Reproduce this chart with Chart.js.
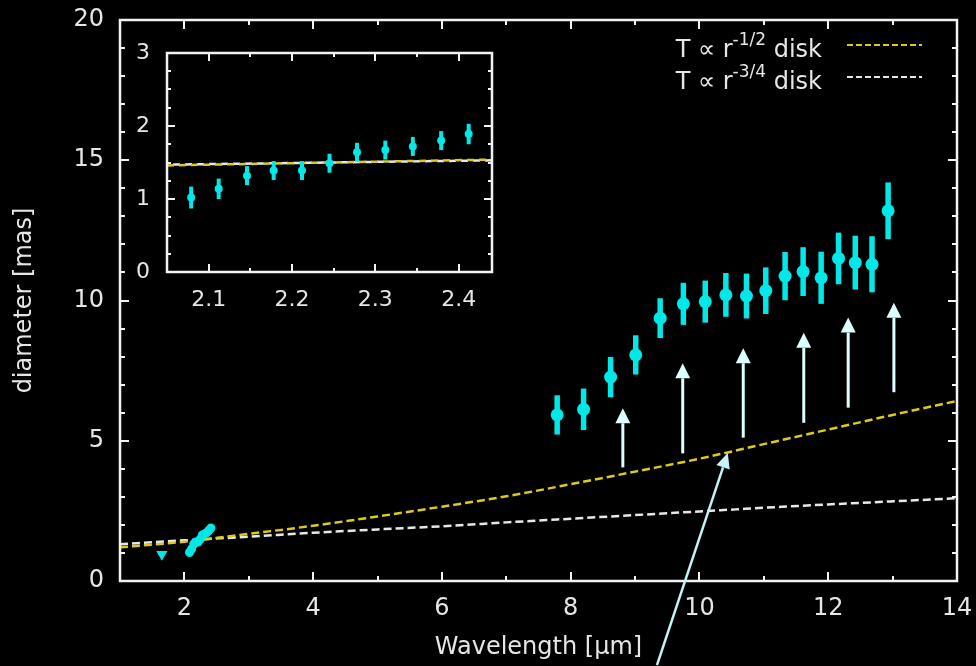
<!DOCTYPE html>
<html>
<head>
<meta charset="utf-8">
<script src="https://cdn.jsdelivr.net/npm/chart.js@4.4.1/dist/chart.umd.min.js"></script>
<style>
  html, body { margin: 0; padding: 0; background: #000; }
  #wrap { position: relative; width: 976px; height: 666px; overflow: hidden; }
  #mainChart { position: absolute; left: 0; top: 0; }
  #insetChart { position: absolute; left: 125px; top: 40px; }
</style>
</head>
<body>
<div id="wrap">
  <canvas id="mainChart" width="976" height="666"></canvas>
  <canvas id="insetChart" width="375" height="280"></canvas>
</div>
<script>
// N band (mid-IR) diameters
const midX = [7.79, 8.20, 8.62, 9.01, 9.39, 9.75, 10.09, 10.41, 10.73, 11.03, 11.33, 11.61, 11.89, 12.16, 12.42, 12.68, 12.93];
const midDiam = [5.92, 6.12, 7.27, 8.06, 9.37, 9.88, 9.96, 10.20, 10.16, 10.35, 10.87, 11.03, 10.81, 11.50, 11.35, 11.29, 13.20];
const midErr = [0.70, 0.74, 0.72, 0.70, 0.71, 0.75, 0.75, 0.78, 0.80, 0.83, 0.86, 0.87, 0.93, 0.92, 0.96, 1.00, 1.01];

// K band diameters (also shown in the inset)
const kX = [2.079, 2.112, 2.146, 2.178, 2.212, 2.245, 2.278, 2.312, 2.345, 2.379, 2.412];
const kDiam = [1.02, 1.14, 1.32, 1.39, 1.39, 1.49, 1.64, 1.67, 1.72, 1.80, 1.89];
const kErr = [0.15, 0.14, 0.13, 0.13, 0.13, 0.13, 0.13, 0.13, 0.13, 0.13, 0.14];

// H band upper limit
const hX = [1.65];
const hDiam = [0.95];

// lower limits (arrows)
const limX = [8.81, 9.74, 10.68, 11.62, 12.31, 13.02];
const limFrom = [4.05, 4.55, 5.11, 5.64, 6.18, 6.73];
const limTo = [6.16, 7.76, 8.30, 8.85, 9.39, 9.92];

// disk models
const modelX = [1, 2, 3, 4, 5, 6, 7, 8, 9, 10, 11, 12, 13, 14];
const diskHalf = [1.20, 1.40, 1.68, 1.97, 2.30, 2.65, 3.02, 3.45, 3.90, 4.36, 4.88, 5.40, 5.92, 6.42];
const diskThreeQuarter = [1.31, 1.45, 1.58, 1.72, 1.84, 1.95, 2.09, 2.22, 2.35, 2.48, 2.61, 2.73, 2.84, 2.95];
const insetModelX = [2.05, 2.44];
const insetHalf = [1.46, 1.54];
const insetThreeQuarter = [1.47, 1.53];

// pointer arrow (from below the plot to the model curve)
const pointerFrom = [9.34, -3.0];
const pointerTo = [10.44, 4.56];

const CYAN = "#00e8e8";
const YELLOW = "#dccb1c";
const WHITE = "#e8e8e8";
const TEXT = "#e6e6e6";
const FONT = "'DejaVu Sans', sans-serif";

Chart.defaults.font.family = FONT;
Chart.defaults.color = TEXT;

const pts = (xs, ys) => xs.map((x, i) => ({ x: x, y: ys[i] }));

// keep the plot box where we put it: no extra room for overhanging labels
function fixBox(size, key) {
    return function (s) {
        s[key] = size;
        s.paddingTop = 0;
        s.paddingBottom = 0;
        s.paddingLeft = 0;
        s.paddingRight = 0;
    };
}

function drawArrow(ctx, x0, y0, x1, y1, head, halfW) {
    const ang = Math.atan2(y1 - y0, x1 - x0);
    const bx = x1 - head * Math.cos(ang), by = y1 - head * Math.sin(ang);
    ctx.beginPath();
    ctx.moveTo(x0, y0);
    ctx.lineTo(bx, by);
    ctx.stroke();
    ctx.beginPath();
    ctx.moveTo(x1, y1);
    ctx.lineTo(bx + halfW * Math.sin(ang), by - halfW * Math.cos(ang));
    ctx.lineTo(bx - halfW * Math.sin(ang), by + halfW * Math.cos(ang));
    ctx.closePath();
    ctx.fill();
}

// vertical error bars, drawn just before the points of their dataset
const errorBarPlugin = {
    id: "errorBars",
    beforeDatasetDraw(chart, args) {
        const ds = chart.data.datasets[args.index];
        if (!ds.errorBars) return;
        const { ctx, scales: { x, y } } = chart;
        ctx.save();
        ctx.strokeStyle = ds.backgroundColor;
        ctx.lineWidth = ds.errorBarWidth;
        ds.data.forEach((p, i) => {
            const px = x.getPixelForValue(p.x);
            ctx.beginPath();
            ctx.moveTo(px, y.getPixelForValue(p.y - ds.errorBars[i]));
            ctx.lineTo(px, y.getPixelForValue(p.y + ds.errorBars[i]));
            ctx.stroke();
        });
        ctx.restore();
    }
};

// gnuplot-like box with inward ticks on all four sides
function framePlugin(xStep, yStep, majorLen, minorLen) {
    return {
        id: "frame",
        afterDatasetsDraw(chart) {
            const { ctx, chartArea: a, scales: { x, y } } = chart;
            ctx.save();
            ctx.strokeStyle = "#f2f2f2";
            ctx.lineWidth = 2;
            const isMajor = (scale, v) => scale.ticks.some(t => Math.abs(t.value - v) < 1e-6);
            for (let n = Math.ceil(x.min / xStep - 1e-9); n * xStep <= x.max + 1e-9; n++) {
                const v = n * xStep;
                if (Math.abs(v - x.min) < 1e-6 || Math.abs(v - x.max) < 1e-6) continue;
                const len = isMajor(x, v) ? majorLen : minorLen;
                const px = Math.round(x.getPixelForValue(v));
                ctx.beginPath();
                ctx.moveTo(px, a.bottom); ctx.lineTo(px, a.bottom - len);
                ctx.moveTo(px, a.top); ctx.lineTo(px, a.top + len);
                ctx.stroke();
            }
            for (let n = Math.ceil(y.min / yStep - 1e-9); n * yStep <= y.max + 1e-9; n++) {
                const v = n * yStep;
                if (Math.abs(v - y.min) < 1e-6 || Math.abs(v - y.max) < 1e-6) continue;
                const len = isMajor(y, v) ? majorLen : minorLen;
                const py = Math.round(y.getPixelForValue(v));
                ctx.beginPath();
                ctx.moveTo(a.left, py); ctx.lineTo(a.left + len, py);
                ctx.moveTo(a.right, py); ctx.lineTo(a.right - len, py);
                ctx.stroke();
            }
            ctx.lineWidth = 2.5;
            ctx.strokeRect(a.left, a.top, a.right - a.left, a.bottom - a.top);
            ctx.restore();
        }
    };
}

const arrowPlugin = {
    id: "limitArrows",
    afterDraw(chart) {
        const { ctx, scales: { x, y } } = chart;
        ctx.save();
        ctx.strokeStyle = "#dcffff";
        ctx.fillStyle = "#dcffff";
        ctx.lineWidth = 3;
        limX.forEach((v, i) => {
            const px = x.getPixelForValue(v);
            drawArrow(ctx, px, y.getPixelForValue(limFrom[i]), px, y.getPixelForValue(limTo[i]), 15, 7.5);
        });
        ctx.strokeStyle = "#c2f4fa";
        ctx.fillStyle = "#c2f4fa";
        ctx.lineWidth = 2.5;
        drawArrow(ctx,
            x.getPixelForValue(pointerFrom[0]), y.getPixelForValue(pointerFrom[1]),
            x.getPixelForValue(pointerTo[0]), y.getPixelForValue(pointerTo[1]), 15, 7);
        ctx.restore();
    }
};

const legendPlugin = {
    id: "diskLegend",
    afterDraw(chart) {
        const { ctx, chartArea: a } = chart;
        const rows = [
            { sup: "-1/2", color: YELLOW },
            { sup: "-3/4", color: WHITE }
        ];
        const textRight = a.right - 135;
        rows.forEach((r, i) => {
            const base = a.top + 37 + i * 32;
            ctx.save();
            ctx.fillStyle = TEXT;
            ctx.textBaseline = "alphabetic";
            ctx.font = "24px " + FONT;
            const w1 = ctx.measureText("T \u221d r").width;
            const w3 = ctx.measureText(" disk").width;
            ctx.font = "17px " + FONT;
            const w2 = ctx.measureText(r.sup).width;
            let tx = textRight - (w1 + w2 + w3);
            ctx.font = "24px " + FONT;
            ctx.fillText("T \u221d r", tx, base);
            tx += w1;
            ctx.font = "17px " + FONT;
            ctx.fillText(r.sup, tx, base - 12);
            tx += w2;
            ctx.font = "24px " + FONT;
            ctx.fillText(" disk", tx, base);
            ctx.strokeStyle = r.color;
            ctx.lineWidth = 2;
            ctx.setLineDash([6, 3]);
            ctx.beginPath();
            ctx.moveTo(a.right - 110, base - 12);
            ctx.lineTo(a.right - 35, base - 12);
            ctx.stroke();
            ctx.restore();
        });
    }
};

function curve(xs, ys, color, dash, offset) {
    return {
        data: pts(xs, ys),
        showLine: true,
        borderColor: color,
        borderWidth: 2.5,
        borderDash: dash,
        borderDashOffset: offset || 0,
        pointRadius: 0,
        cubicInterpolationMode: "monotone",
        order: 5
    };
}

new Chart(document.getElementById("mainChart"), {
    type: "scatter",
    data: {
        datasets: [
            {
                data: pts(midX, midDiam),
                backgroundColor: CYAN,
                pointRadius: 6.5,
                pointBorderWidth: 0,
                errorBars: midErr,
                errorBarWidth: 5.5,
                order: 1
            },
            {
                data: pts(kX, kDiam),
                backgroundColor: CYAN,
                pointRadius: 4.5,
                pointBorderWidth: 0,
                errorBars: kErr,
                errorBarWidth: 4,
                order: 1
            },
            {
                data: pts(hX, hDiam),
                backgroundColor: CYAN,
                pointStyle: "triangle",
                rotation: 180,
                pointRadius: 6.5,
                pointBorderWidth: 0,
                order: 1
            },
            curve(modelX, diskHalf, YELLOW, [8, 4]),
            curve(modelX, diskThreeQuarter, WHITE, [8, 4])
        ]
    },
    options: {
        responsive: false,
        animation: false,
        layout: { padding: { top: 20, right: 19, bottom: 0, left: 0 } },
        plugins: { legend: { display: false }, tooltip: { enabled: false } },
        scales: {
            x: {
                type: "linear",
                min: 1,
                max: 14,
                grid: { display: false, drawTicks: false },
                border: { display: false },
                ticks: { stepSize: 2, includeBounds: false, padding: 13, font: { size: 24 }, color: TEXT },
                title: { display: true, text: "Wavelength [\u03bcm]", font: { size: 24 }, color: TEXT, padding: { top: 0, bottom: 4 } },
                afterFit: fixBox(85, "height")
            },
            y: {
                type: "linear",
                min: 0,
                max: 20,
                grid: { display: false, drawTicks: false },
                border: { display: false },
                ticks: { stepSize: 5, padding: 16, font: { size: 24 }, color: TEXT },
                title: { display: true, text: "diameter [mas]", font: { size: 24 }, color: TEXT, padding: { top: 10, bottom: 0 } },
                afterFit: fixBox(120, "width")
            }
        }
    },
    plugins: [errorBarPlugin, framePlugin(1, 1, 9, 5), arrowPlugin, legendPlugin]
});

new Chart(document.getElementById("insetChart"), {
    type: "scatter",
    data: {
        datasets: [
            {
                data: pts(kX, kDiam),
                backgroundColor: CYAN,
                pointRadius: 4,
                pointBorderWidth: 0,
                errorBars: kErr,
                errorBarWidth: 4,
                order: 1
            },
            curve(insetModelX, insetHalf, YELLOW, [7, 5], 0),
            Object.assign(curve(insetModelX, insetThreeQuarter, WHITE, [7, 5], 6), { order: 6 })
        ]
    },
    options: {
        responsive: false,
        animation: false,
        layout: { padding: { top: 13, right: 8, bottom: 0, left: 0 } },
        plugins: { legend: { display: false }, tooltip: { enabled: false } },
        scales: {
            x: {
                type: "linear",
                min: 2.05,
                max: 2.44,
                grid: { display: false, drawTicks: false },
                border: { display: false },
                ticks: {
                    stepSize: 0.1, includeBounds: false, padding: 15, font: { size: 22 }, color: TEXT,
                    callback: v => String(Math.round(v * 10) / 10)
                },
                afterFit: fixBox(48, "height")
            },
            y: {
                type: "linear",
                min: 0,
                max: 3,
                grid: { display: false, drawTicks: false },
                border: { display: false },
                ticks: { stepSize: 1, padding: 17, font: { size: 22 }, color: TEXT },
                afterFit: fixBox(42, "width")
            }
        }
    },
    plugins: [errorBarPlugin, framePlugin(0.05, 0.25, 8, 4)]
});
</script>
</body>
</html>
